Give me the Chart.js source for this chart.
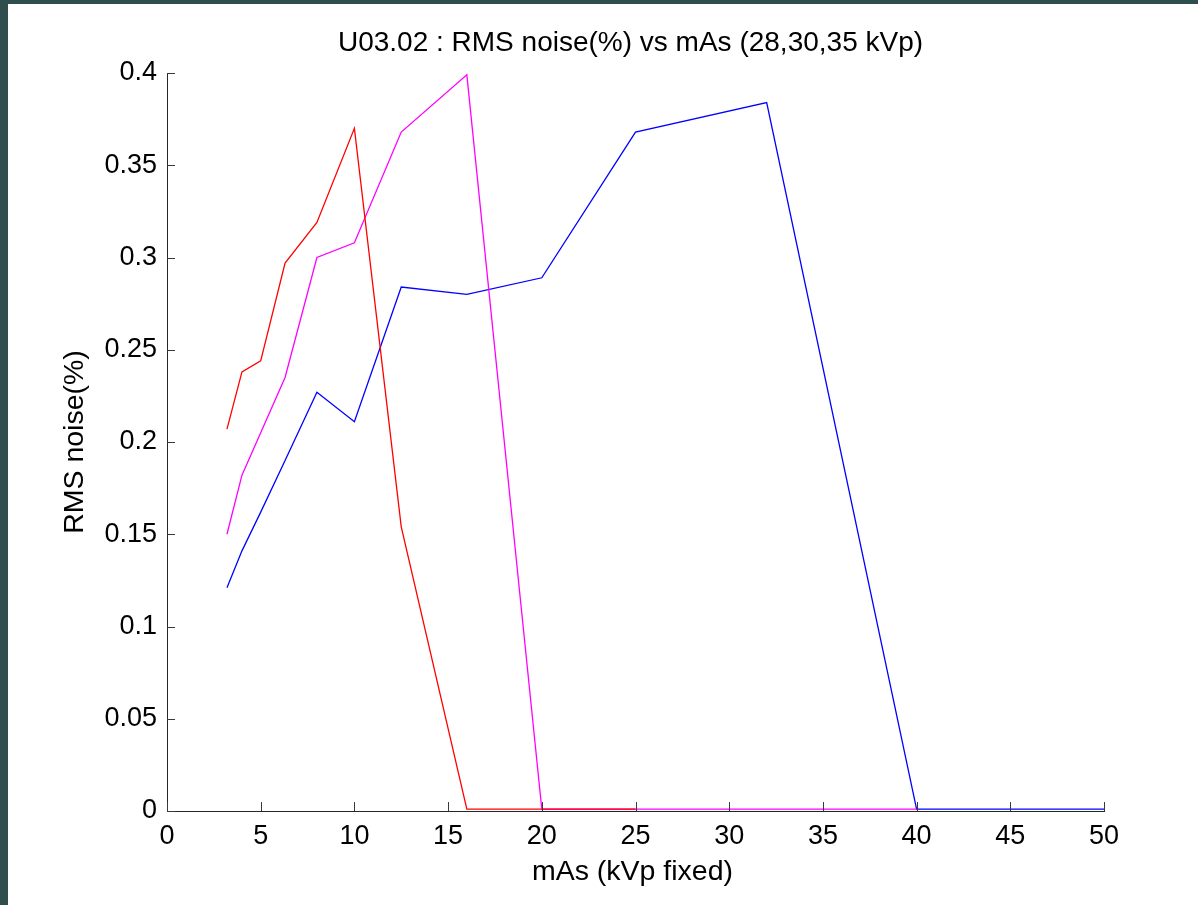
<!DOCTYPE html>
<html>
<head>
<meta charset="utf-8">
<title>RMS noise vs mAs</title>
<script src="https://cdn.jsdelivr.net/npm/chart.js@4.4.1/dist/chart.umd.min.js"></script>
<style>
    html, body { margin: 0; padding: 0; background: #2f4f4f; overflow: hidden; }
    #wrap { position: absolute; left: 8px; top: 4px; width: 1190px; height: 901px; background: #fff; }
</style>
</head>
<body>
<div id="wrap"><canvas id="noiseChart" width="1190" height="901"></canvas></div>
<script>
// mAs steps used for the exposures
const mAs = [3.2, 4, 5, 6.3, 8, 10, 12.5, 16, 20, 25, 32, 40, 50];

// RMS noise (%) per kVp setting, null where no exposure was taken
const noise28 = [0.207, 0.238, 0.244, 0.297, 0.319, 0.370, 0.154, 0.001, 0.001, 0.001, null, null, null];
const noise30 = [0.150, 0.182, 0.205, 0.235, 0.300, 0.308, 0.368, 0.399, 0.001, 0.001, 0.001, 0.001, null];
const noise35 = [0.121, 0.141, 0.162, 0.190, 0.227, 0.211, 0.284, 0.280, 0.289, 0.368, 0.384, 0.001, 0.001];

const xTicks = [0, 5, 10, 15, 20, 25, 30, 35, 40, 45, 50];
const yTicks = [0, 0.05, 0.1, 0.15, 0.2, 0.25, 0.3, 0.35, 0.4];
const yTickLabels = ['0', '0.05', '0.1', '0.15', '0.2', '0.25', '0.3', '0.35', '0.4'];

const titleText = 'U03.02 : RMS noise(%) vs mAs (28,30,35 kVp)';
const xTitle = 'mAs (kVp fixed)';
const yTitle = 'RMS noise(%)';

const FONT = "'Liberation Sans', Arial, sans-serif";

function points(values) {
    return mAs.map((x, i) => ({ x: x, y: values[i] }));
}

// ticks point into the plot, and the texts sit at fixed spots
const matlabAxes = {
    id: 'matlabAxes',
    afterDraw(chart) {
        const { ctx, chartArea, scales } = chart;
        ctx.save();
        ctx.strokeStyle = '#3a3a3a';
        ctx.lineWidth = 1;
        ctx.beginPath();
        xTicks.forEach(v => {
            const px = Math.round(scales.x.getPixelForValue(v)) + 0.5;
            ctx.moveTo(px, chartArea.bottom);
            ctx.lineTo(px, chartArea.bottom - 9);
        });
        yTicks.forEach(v => {
            const py = Math.round(scales.y.getPixelForValue(v)) + 0.5;
            ctx.moveTo(chartArea.left, py);
            ctx.lineTo(chartArea.left + 8, py);
        });
        ctx.stroke();

        const cx = (chartArea.left + chartArea.right) / 2;
        const cy = (chartArea.top + chartArea.bottom) / 2;
        ctx.fillStyle = '#000';
        ctx.textAlign = 'center';
        ctx.textBaseline = 'middle';
        ctx.font = '28px ' + FONT;
        ctx.fillText(titleText, cx - 5, 39);
        ctx.font = '28.5px ' + FONT;
        ctx.fillText(xTitle, cx - 3, 868);
        ctx.translate(67, cy);
        ctx.rotate(-Math.PI / 2);
        ctx.fillText(yTitle, 0, 0);
        ctx.restore();
    }
};

new Chart(document.getElementById('noiseChart').getContext('2d'), {
    type: 'line',
    data: {
        datasets: [
            { label: '28 kVp', data: points(noise28), borderColor: '#ff0000' },
            { label: '30 kVp', data: points(noise30), borderColor: '#ff00ff' },
            { label: '35 kVp', data: points(noise35), borderColor: '#0000ff' }
        ]
    },
    options: {
        responsive: false,
        animation: false,
        layout: { padding: { top: 69, right: 94, left: 0, bottom: 0 } },
        elements: {
            line: { borderWidth: 1.3, tension: 0, fill: false },
            point: { radius: 0, hoverRadius: 0 }
        },
        plugins: {
            legend: { display: false },
            title: { display: false },
            tooltip: { enabled: false }
        },
        scales: {
            x: {
                type: 'linear',
                min: 0,
                max: 50,
                afterFit(scale) { scale.height = 94; },
                afterBuildTicks(scale) { scale.ticks = xTicks.map(v => ({ value: v })); },
                grid: { display: false, drawTicks: false },
                border: { display: true, color: '#262626', width: 1 },
                ticks: {
                    padding: 9,
                    color: '#000',
                    font: { family: FONT, size: 27 },
                    maxRotation: 0,
                    autoSkip: false
                }
            },
            y: {
                type: 'linear',
                min: 0,
                max: 0.4,
                afterFit(scale) { scale.width = 159; },
                afterBuildTicks(scale) { scale.ticks = yTicks.map(v => ({ value: v })); },
                grid: { display: false, drawTicks: false },
                border: { display: true, color: '#262626', width: 1 },
                ticks: {
                    padding: 10,
                    color: '#000',
                    font: { family: FONT, size: 27 },
                    autoSkip: false,
                    callback: (value, index) => yTickLabels[index]
                }
            }
        }
    },
    plugins: [matlabAxes]
});
</script>
</body>
</html>
